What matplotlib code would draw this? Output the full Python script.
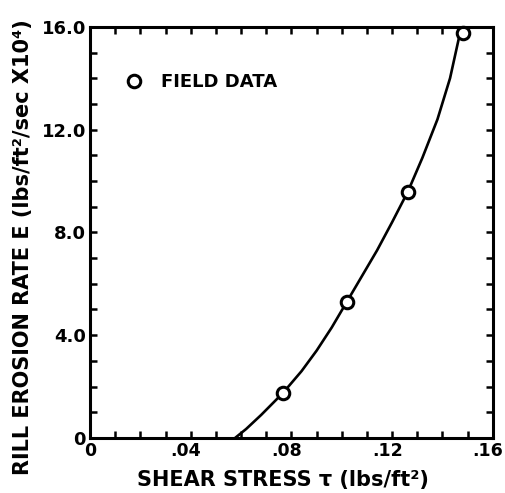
import numpy as np
import matplotlib.pyplot as plt
from matplotlib.ticker import MultipleLocator
from matplotlib.transforms import ScaledTranslation

# field data
tau_data = [0.0766, 0.102, 0.1263, 0.148]
E_data = [1.75, 5.29, 9.58, 15.77]

# fitted curve as drawn in the figure
tau_fit = [0.0576, 0.062, 0.068, 0.0766, 0.084, 0.090, 0.096, 0.102, 0.108,
           0.114, 0.120, 0.1263, 0.132, 0.138, 0.143, 0.1475]
E_fit = [0.0, 0.35, 0.9, 1.75, 2.6, 3.4, 4.3, 5.3, 6.3,
         7.3, 8.4, 9.6, 10.9, 12.4, 14.0, 16.0]

xticks = [0, 0.04, 0.08, 0.12, 0.16]
xlabels = ["0", ".04", ".08", ".12", ".16"]
yticks = [0, 4, 8, 12, 16]
ylabels = ["0", "4.0", "8.0", "12.0", "16.0"]

plt.rcParams['font.family'] = 'DejaVu Sans'
plt.rcParams['font.weight'] = 'bold'

fig = plt.figure(figsize=(5.06, 4.93), dpi=100)
ax = fig.add_axes([0.178, 0.1116, 0.796, 0.834])

ax.plot(tau_fit, E_fit, color='black', lw=1.9, solid_capstyle='round')
ax.plot(tau_data, E_data, 'o', mfc='white', mec='black', mew=2.2, ms=9,
        label='FIELD DATA', clip_on=False)

ax.set_xlim(0, 0.16)
ax.set_ylim(0, 16)
ax.set_xticks(xticks)
ax.set_xticklabels(xlabels)
ax.set_yticks(yticks)
ax.set_yticklabels(ylabels)
ax.xaxis.set_minor_locator(MultipleLocator(0.01))
ax.yaxis.set_minor_locator(MultipleLocator(1))
ax.tick_params(which='both', direction='in', top=True, right=True,
               width=1.8, length=5, pad=3)
ax.tick_params(axis='y', labelsize=13)
ax.tick_params(axis='x', labelsize=12.5)

# x tick labels sit a little left of their ticks in the original
shift = ScaledTranslation(-5 / 100, 0, fig.dpi_scale_trans)
for lab in ax.get_xticklabels()[1:]:
    lab.set_transform(lab.get_transform() + shift)

for s in ax.spines.values():
    s.set_linewidth(2.2)

ax.set_xlabel("SHEAR STRESS \u03c4 (lbs/ft\u00b2)", fontsize=15, fontweight='bold')
ax.xaxis.set_label_coords(0.479, -0.078)
ax.set_ylabel("RILL EROSION RATE E (lbs/ft\u00b2/sec X10\u2074)", fontsize=15,
              fontweight='bold')
ax.yaxis.set_label_coords(-0.142, 0.465)

ax.legend(loc='upper left', bbox_to_anchor=(0.068, 0.905), frameon=False,
          fontsize=13, handletextpad=1.0, borderaxespad=0, handlelength=1)

fig.savefig('out.png', dpi=100)
